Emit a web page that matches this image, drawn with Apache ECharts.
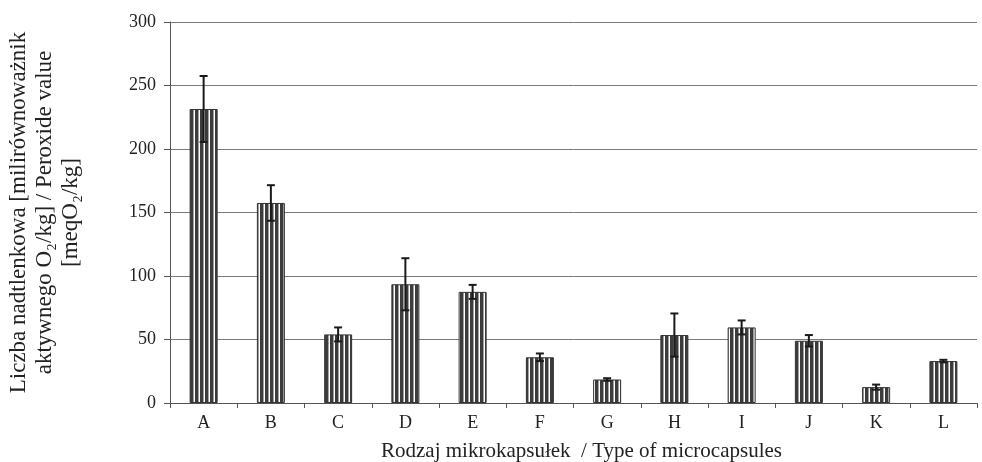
<!DOCTYPE html>
<html>
<head>
<meta charset="utf-8">
<script src="https://cdn.jsdelivr.net/npm/echarts@6/dist/echarts.min.js"></script>
<style>
  html, body { margin: 0; padding: 0; background: #fff; }
  #chart { width: 982px; height: 462px; }
</style>
</head>
<body>
<div id="chart"></div>
<script>
const categories = ['A', 'B', 'C', 'D', 'E', 'F', 'G', 'H', 'I', 'J', 'K', 'L']
const peroxide = [231.5, 157.5, 54, 93.5, 87.5, 36, 18.5, 53.5, 59.5, 49, 12.5, 33]
const errors = [26, 14, 5.5, 20.5, 5.5, 3, 1, 17, 5.5, 4.5, 2, 1]

// vertical stripe fill like the printed bars
function stripes() {
  const c = document.createElement('canvas')
  c.width = 5
  c.height = 8
  const ctx = c.getContext('2d')
  ctx.fillStyle = '#ffffff'
  ctx.fillRect(0, 0, 5, 8)
  ctx.fillStyle = '#3c3c3c'
  ctx.fillRect(0, 0, 3, 8)
  ctx.fillStyle = '#a0a0a0'
  ctx.fillRect(3, 0, 1, 8)
  return c
}

const chart = echarts.init(document.getElementById('chart'))
const font = 'Liberation Serif'

chart.setOption({
  animation: false,
  textStyle: { fontFamily: font },
  grid: { left: 170, right: 5, top: 22, bottom: 59, outerBoundsMode: 'none' },
  xAxis: {
    type: 'category',
    data: categories,
    boundaryGap: true,
    axisLine: { lineStyle: { color: '#555', width: 1 } },
    axisTick: { show: true, length: 5, lineStyle: { color: '#555' } },
    axisLabel: { color: '#222', fontSize: 18, fontFamily: font, margin: 11 },
    name: 'Rodzaj mikrokapsułek  / Type of microcapsules',
    nameLocation: 'middle',
    nameGap: 38,
    nameTextStyle: { color: '#222', fontSize: 21, fontFamily: font, padding: [0, 0, 0, 16] }
  },
  yAxis: {
    type: 'value',
    min: 0,
    max: 300,
    interval: 50,
    axisLine: { show: true, lineStyle: { color: '#555', width: 1 } },
    axisTick: { show: true, length: 6, lineStyle: { color: '#555' } },
    axisLabel: { color: '#222', fontSize: 18, fontFamily: font, margin: 14 },
    splitLine: { lineStyle: { color: '#7a7a7a', width: 1 } },
    name: 'Liczba nadtlenkowa [milirównoważnik\naktywnego O₂/kg] / Peroxide value\n[meqO₂/kg]',
    nameLocation: 'middle',
    nameRotate: 90,
    nameGap: 86,
    nameTextStyle: { color: '#222', fontSize: 23, fontFamily: font, lineHeight: 26, align: 'center' }
  },
  series: [
    {
      type: 'bar',
      data: peroxide,
      barWidth: 28,
      itemStyle: {
        color: { image: stripes(), repeat: 'repeat' },
        borderColor: '#333',
        borderWidth: 1
      }
    },
    {
      type: 'custom',
      data: peroxide.map((v, i) => [i, v - errors[i], v + errors[i]]),
      z: 5,
      renderItem: function (params, api) {
        const lo = api.coord([api.value(0), api.value(1)])
        const hi = api.coord([api.value(0), api.value(2)])
        const x = lo[0]
        const cap = 4
        const style = { stroke: '#1a1a1a', lineWidth: 2 }
        return {
          type: 'group',
          children: [
            { type: 'line', shape: { x1: x, y1: lo[1], x2: x, y2: hi[1] }, style: style },
            { type: 'line', shape: { x1: x - cap, y1: lo[1], x2: x + cap, y2: lo[1] }, style: style },
            { type: 'line', shape: { x1: x - cap, y1: hi[1], x2: x + cap, y2: hi[1] }, style: style }
          ]
        }
      }
    }
  ]
})
</script>
</body>
</html>
